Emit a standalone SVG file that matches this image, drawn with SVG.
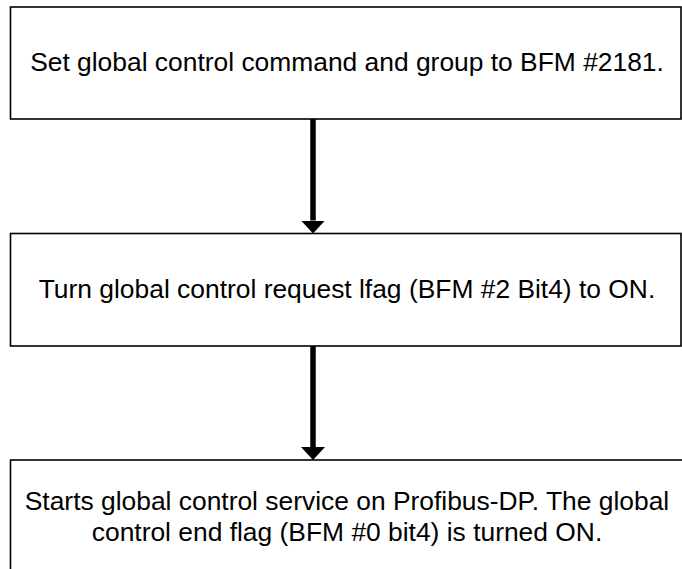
<svg xmlns="http://www.w3.org/2000/svg" width="682" height="569" viewBox="0 0 682 569">
<style>
.box{fill:#fff;stroke:#000;stroke-width:1.6}
.t{font-family:"Liberation Sans",Arial,sans-serif;font-size:26.4px;fill:#000;text-anchor:middle}
.c{stroke:#000;stroke-width:5.5;fill:none}
</style>
<defs>
<marker id="ah" markerUnits="userSpaceOnUse" markerWidth="13" markerHeight="24" refX="0" refY="12" orient="auto" viewBox="0 0 13 24">
<path d="M0,0 L13,12 L0,24 Z" fill="#000"/>
</marker>
</defs>
<rect width="682" height="569" fill="#fff"/>
<g id="n1">
<rect class="box" x="10.5" y="7" width="670.5" height="112"/>
<text class="t" x="347" y="71">Set global control command and group to BFM #2181.</text>
</g>
<g id="n2">
<rect class="box" x="10.5" y="233.5" width="670.5" height="112.5"/>
<text class="t" x="347" y="298">Turn global control request lfag (BFM #2 Bit4) to ON.</text>
</g>
<g id="n3">
<rect class="box" x="10.5" y="460" width="680" height="140"/>
<text class="t" x="347" y="510">Starts global control service on Profibus-DP. The global</text>
<text class="t" x="347" y="541">control end flag (BFM #0 bit4) is turned ON.</text>
</g>
<g id="connectors">
<line class="c" x1="313" y1="119" x2="313" y2="220.5" marker-end="url(#ah)"/>
<line class="c" x1="313" y1="346" x2="313" y2="447" marker-end="url(#ah)"/>
</g>
</svg>
